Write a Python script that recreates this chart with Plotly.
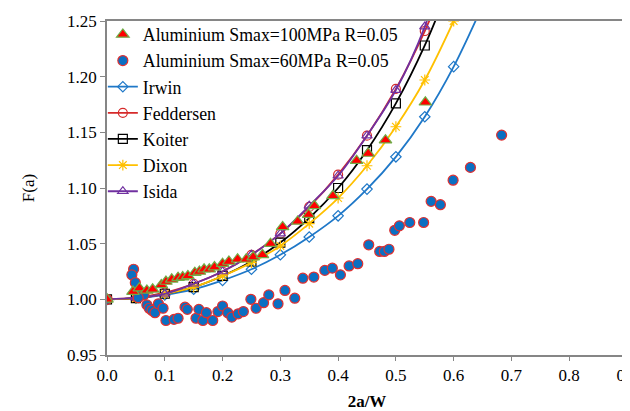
import plotly.graph_objects as go

# ---- data ----
alpha = [0.0, 0.05, 0.10, 0.15, 0.20, 0.25, 0.30, 0.35, 0.40, 0.45, 0.50, 0.55, 0.60, 0.65]

irwin = [1.000, 1.001, 1.004, 1.009, 1.017, 1.027, 1.040, 1.056, 1.075, 1.099, 1.128, 1.164, 1.209, 1.264]
feddersen = [1.000, 1.0015, 1.006, 1.014, 1.025, 1.040, 1.059, 1.083, 1.112, 1.147, 1.189, 1.241, 1.304]
koiter = [1.000, 1.001, 1.005, 1.011, 1.021, 1.034, 1.051, 1.073, 1.100, 1.134, 1.176, 1.228, 1.292]
dixon = [1.000, 1.001, 1.005, 1.011, 1.021, 1.033, 1.048, 1.068, 1.091, 1.120, 1.155, 1.197, 1.250]
isida = [1.000, 1.0015, 1.005, 1.014, 1.025, 1.040, 1.059, 1.084, 1.111, 1.147, 1.188, 1.245, 1.330]

al100_x = [0.0, 0.045, 0.056, 0.069, 0.079, 0.094, 0.102, 0.112, 0.123, 0.131, 0.140, 0.152,
           0.160, 0.168, 0.177, 0.186, 0.200, 0.211, 0.226, 0.241, 0.253, 0.269, 0.283,
           0.304, 0.330, 0.349, 0.359, 0.391, 0.432, 0.452, 0.482, 0.551]
al100_y = [1.000, 1.007, 1.010, 1.008, 1.009, 1.013, 1.016, 1.018, 1.0195, 1.020, 1.021, 1.024,
           1.025, 1.027, 1.027, 1.029, 1.032, 1.034, 1.036, 1.036, 1.038, 1.040, 1.050,
           1.065, 1.070, 1.076, 1.084, 1.093, 1.1245, 1.131, 1.143, 1.177]

al60_x = [0.0, 0.046, 0.043, 0.049, 0.056, 0.064, 0.054, 0.069, 0.073, 0.078, 0.083, 0.089,
          0.097, 0.102, 0.116, 0.123, 0.135, 0.139, 0.154, 0.159, 0.166, 0.172, 0.183,
          0.192, 0.200, 0.209, 0.216, 0.227, 0.236, 0.249, 0.258, 0.271, 0.280, 0.296,
          0.308, 0.325, 0.339, 0.358, 0.377, 0.390, 0.404, 0.419, 0.434, 0.453, 0.472,
          0.480, 0.488, 0.498, 0.506, 0.524, 0.548, 0.561, 0.577, 0.599, 0.629, 0.683]
al60_y = [1.000, 1.027, 1.022, 1.015, 1.004, 1.004, 1.0015, 0.995, 0.992, 0.990, 0.988, 0.996,
          0.992, 0.981, 0.982, 0.983, 0.993, 0.991, 0.983, 0.991, 0.981, 0.988, 0.981,
          0.989, 0.994, 0.988, 0.984, 0.987, 0.989, 1.000, 0.992, 0.997, 1.004, 0.996,
          1.008, 1.001, 1.019, 1.020, 1.026, 1.028, 1.022, 1.030, 1.032, 1.049, 1.043,
          1.043, 1.045, 1.062, 1.066, 1.069, 1.069, 1.088, 1.085, 1.107, 1.1185, 1.1475]

x_ticks = [0.0, 0.1, 0.2, 0.3, 0.4, 0.5, 0.6, 0.7, 0.8, 0.9]
y_ticks = [0.95, 1.00, 1.05, 1.10, 1.15, 1.20, 1.25]

FONT = "Liberation Serif, Tinos, DejaVu Serif, serif"
fig = go.Figure()

theory = [
    ("Irwin", irwin, "#1F78C8", "diamond-open", 8, 3),
    ("Feddersen", feddersen, "#D62A2A", "circle-open", 9, 4),
    ("Koiter", koiter, "#000000", "square-open", 9, 5),
    ("Dixon", dixon, "#FFC000", "asterisk-open", 9, 6),
    ("Isida", isida, "#7030A0", "triangle-up-open", 9, 7),
]
for name, vals, col, sym, sz, rank in theory:
    fig.add_trace(go.Scatter(
        x=alpha[:len(vals)], y=vals, name=name, mode="lines+markers",
        line=dict(color=col, width=1.8, shape="spline"),
        marker=dict(symbol=sym, size=sz, color=col, line=dict(color=col, width=1.2)),
        legendrank=rank,
    ))

fig.add_trace(go.Scatter(
    x=al60_x, y=al60_y, name="Aluminium Smax=60MPa R=0.05", mode="markers",
    marker=dict(symbol="circle", size=10, color="#0A6FC2", line=dict(color="#E03030", width=1.2)),
    legendrank=2,
))
fig.add_trace(go.Scatter(
    x=al100_x, y=al100_y, name="Aluminium Smax=100MPa R=0.05", mode="markers",
    marker=dict(symbol="triangle-up", size=11, color="#FF0000", line=dict(color="#70AD47", width=1.2)),
    legendrank=1,
))

fig.update_layout(
    width=630, height=411,
    margin=dict(l=99, r=11, t=13, b=64, autoexpand=False),
    paper_bgcolor="white", plot_bgcolor="white",
    font=dict(family=FONT, size=17, color="#000000"),
    showlegend=True,
    legend=dict(x=-0.008, y=1.014, xanchor="left", yanchor="top",
                bgcolor="rgba(0,0,0,0)", font=dict(family=FONT, size=17.8),
                itemwidth=30, tracegroupgap=0),
    xaxis=dict(range=[0, 0.9], tickvals=x_ticks, tickformat=".1f", automargin=False,
               showgrid=False, zeroline=False, showline=True, linecolor="#868686",
               linewidth=1.5, mirror=True, ticks="outside", ticklen=4, tickcolor="#868686",
               title=dict(text="<b>2a/W</b>", font=dict(family=FONT, size=17), standoff=11)),
    yaxis=dict(range=[0.95, 1.25], tickvals=y_ticks, tickformat=".2f", automargin=False,
               showgrid=False, zeroline=False, showline=True, linecolor="#868686",
               linewidth=1.5, mirror=True, ticks="outside", ticklen=5, tickcolor="#868686",
               title=dict(text="F(a)", font=dict(family=FONT, size=17), standoff=28)),
)

fig.write_html("out.html")
